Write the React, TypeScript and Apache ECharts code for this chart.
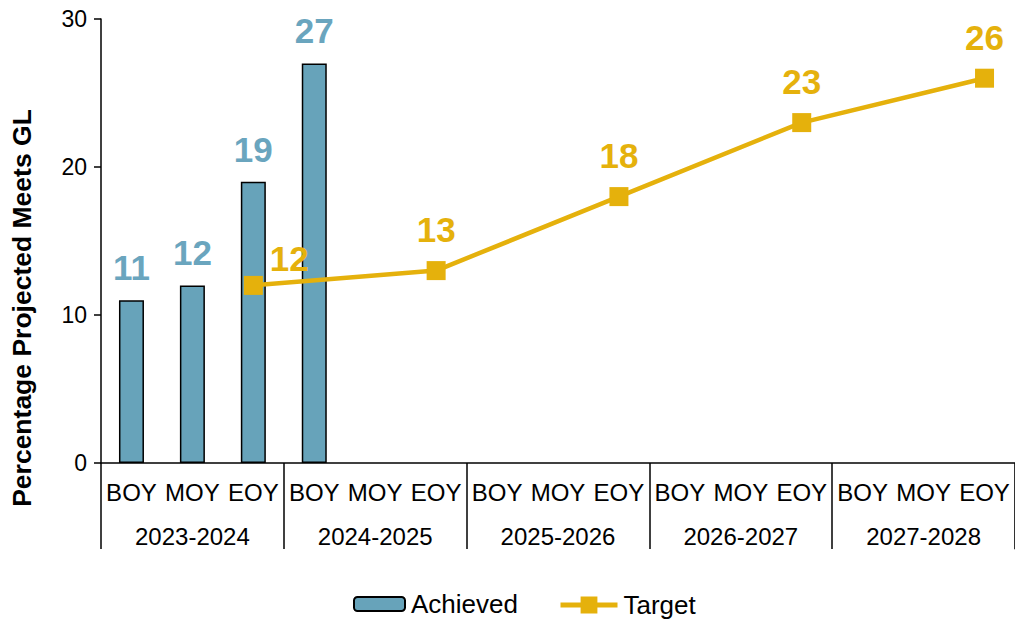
import React, { useEffect, useRef } from "react";
import * as echarts from "echarts";

const categories = [
  "BOY", "MOY", "EOY",
  "BOY", "MOY", "EOY",
  "BOY", "MOY", "EOY",
  "BOY", "MOY", "EOY",
  "BOY", "MOY", "EOY",
];
const years = ["2023-2024", "2024-2025", "2025-2026", "2026-2027", "2027-2028"];
const achieved: (number | null)[] = [11, 12, 19, 27, null, null, null, null, null, null, null, null, null, null, null];
const target: (number | null)[] = [null, null, 12, null, null, 13, null, null, 18, null, null, 23, null, null, 26];
const yTicks = { min: 0, max: 30, interval: 10 };

const BLUE = "#67A3BA";
const BLUE_LABEL = "#6AA5BE";
const GOLD = "#E5B10C";
const FONT = "'Liberation Sans', Arial, sans-serif";

export default function App() {
  const ref = useRef<HTMLDivElement>(null);
  useEffect(() => {
    if (!ref.current) return;
    const chart = echarts.init(ref.current, null, { renderer: "svg" });
    const targetData = target.map((v, i) =>
      i === 2 ? { value: v, label: { offset: [36, 14] } } : v
    );
    chart.setOption({
      animation: false,
      textStyle: { fontFamily: FONT },
      grid: { left: 101, top: 19, width: 915, bottom: 156 },
      xAxis: [
        {
          type: "category",
          data: categories,
          position: "bottom",
          axisLine: { show: true, lineStyle: { color: "#000", width: 1.5 } },
          axisTick: { show: false },
          axisLabel: { interval: 0, fontSize: 24, color: "#000", margin: 17, fontFamily: FONT },
        },
        {
          type: "category",
          data: years,
          position: "bottom",
          axisLine: { show: false },
          axisTick: { show: true, length: 86, lineStyle: { color: "#000", width: 1.5 } },
          axisLabel: { interval: 0, fontSize: 24, color: "#000", margin: 61, fontFamily: FONT },
        },
      ],
      yAxis: {
        type: "value",
        min: yTicks.min,
        max: yTicks.max,
        interval: yTicks.interval,
        axisLine: { show: true, lineStyle: { color: "#000", width: 1.5 } },
        axisTick: { show: true, length: 7, lineStyle: { color: "#000", width: 1.5 } },
        splitLine: { show: false },
        axisLabel: { fontSize: 23, color: "#000", margin: 14, fontFamily: FONT },
      },
      legend: [
        {
          data: ["Achieved"],
          left: 353,
          top: 591,
          padding: 0,
          itemWidth: 51,
          itemHeight: 14,
          textStyle: { fontSize: 26, color: "#000", fontFamily: FONT, padding: [0, 0, 0, 1] },
        },
        {
          data: ["Target"],
          left: 558,
          top: 592,
          padding: 0,
          itemWidth: 57,
          itemHeight: 21,
          lineStyle: { width: 5 },
          textStyle: { fontSize: 26, color: "#000", fontFamily: FONT, padding: [0, 0, 0, 1] },
        },
      ],
      graphic: [
        {
          type: "text",
          x: 22,
          y: 308,
          rotation: Math.PI / 2,
          style: {
            text: "Percentage Projected Meets GL",
            font: `bold 26.5px ${FONT}`,
            fill: "#000",
            textAlign: "center",
            textVerticalAlign: "middle",
          },
        },
        {
          type: "line",
          shape: { x1: 1014.5, y1: 463, x2: 1014.5, y2: 550 },
          style: { stroke: "#c8c8c8", lineWidth: 1 },
        },
      ],
      series: [
        {
          name: "Achieved",
          type: "bar",
          xAxisIndex: 0,
          data: achieved,
          barWidth: 25,
          itemStyle: { color: BLUE, borderColor: "#000", borderWidth: 1.5 },
          label: {
            show: true,
            position: "top",
            distance: 15,
            fontSize: 35,
            fontWeight: "bold",
            color: BLUE_LABEL,
            fontFamily: FONT,
          },
        },
        {
          name: "Target",
          type: "line",
          xAxisIndex: 0,
          data: targetData,
          connectNulls: true,
          symbol: "rect",
          symbolSize: 19,
          lineStyle: { color: GOLD, width: 4.5 },
          itemStyle: { color: GOLD },
          label: {
            show: true,
            position: "top",
            distance: 14,
            fontSize: 35,
            fontWeight: "bold",
            color: GOLD,
            fontFamily: FONT,
          },
        },
      ],
    });
    return () => chart.dispose();
  }, []);
  return (
    <div
      ref={ref}
      style={{ position: "absolute", left: 0, top: 0, width: 1015, height: 619 }}
    />
  );
}
